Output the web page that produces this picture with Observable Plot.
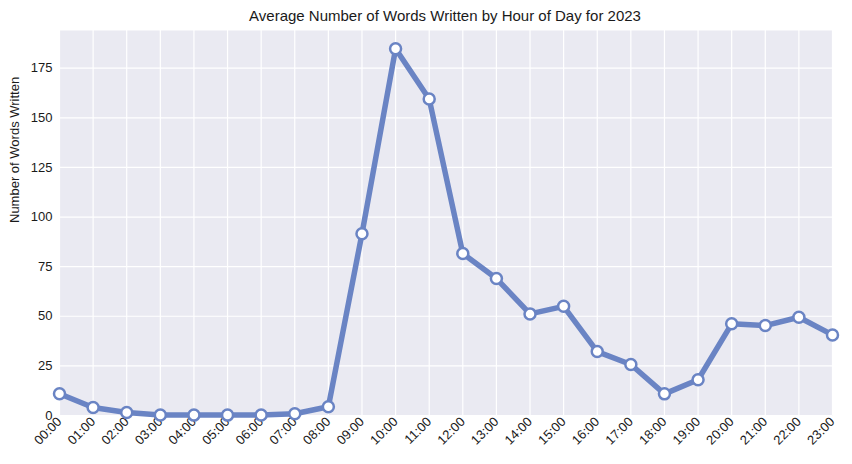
<!DOCTYPE html>
<html>
<head>
<meta charset="utf-8">
<script src="https://cdn.jsdelivr.net/npm/d3@7"></script>
<script src="https://cdn.jsdelivr.net/npm/@observablehq/plot@0.6"></script>
<style>
  body { margin: 0; background: #fff; font-family: "Liberation Sans", Arial, sans-serif; }
  #title { width: 852px; height: 30px; position: relative; }
  #title span { position: absolute; left: 445px; top: 7px; transform: translateX(-50%); font-size: 15px; color: #1a1a1a; white-space: nowrap; }
</style>
</head>
<body>
<div id="title"><span>Average Number of Words Written by Hour of Day for 2023</span></div>
<div id="chart"></div>
<script>
const hours = ["00:00","01:00","02:00","03:00","04:00","05:00","06:00","07:00","08:00","09:00","10:00","11:00","12:00","13:00","14:00","15:00","16:00","17:00","18:00","19:00","20:00","21:00","22:00","23:00"];
const words = [11, 4, 1.5, 0.3, 0.2, 0.2, 0.3, 0.9, 4.4, 91.6, 184.8, 159.5, 81.6, 69, 51.2, 55, 32.2, 25.7, 10.9, 18, 46.2, 45.3, 49.5, 40.6];
const yTicks = [0, 25, 50, 75, 100, 125, 150, 175];

const data = hours.map((h, i) => ({i, hour: h, value: words[i]}));
const xTicks = hours.map((h, i) => i);
const col = "#6a84c4";
const txt = "#1a1a1a";

const plot = Plot.plot({
  width: 852,
  height: 434,
  marginLeft: 59,
  marginRight: 20,
  marginTop: 0,
  marginBottom: 49,
  style: {fontFamily: "Liberation Sans, Arial, sans-serif", fontSize: "13px", color: txt, background: "#fff"},
  x: {type: "linear", domain: [0, hours.length - 1], label: null},
  y: {domain: [0, 194], label: null},
  marks: [
    Plot.frame({fill: "#eaeaf2", stroke: null}),
    Plot.gridX(xTicks, {stroke: "#fff", strokeOpacity: 1, strokeWidth: 1.2}),
    Plot.gridY(yTicks, {stroke: "#fff", strokeOpacity: 1, strokeWidth: 1.2}),
    Plot.axisX(xTicks, {tickSize: 0, tickPadding: 4, tickRotate: -45, textAnchor: "end", fontSize: 13, fill: txt, tickFormat: i => hours[i]}),
    Plot.axisY(yTicks, {tickSize: 0, tickPadding: 7, fontSize: 13, fill: txt}),
    Plot.text(["Number of Words Written"], {frameAnchor: "left", dx: -45, rotate: -90, fontSize: 13, fill: txt}),
    Plot.line(data, {x: "i", y: "value", stroke: col, strokeWidth: 5.5, strokeLinejoin: "round", clip: false}),
    Plot.dot(data, {x: "i", y: "value", r: 5.5, fill: "#fff", stroke: col, strokeWidth: 2.5})
  ]
});
document.getElementById("chart").appendChild(plot);
</script>
</body>
</html>
